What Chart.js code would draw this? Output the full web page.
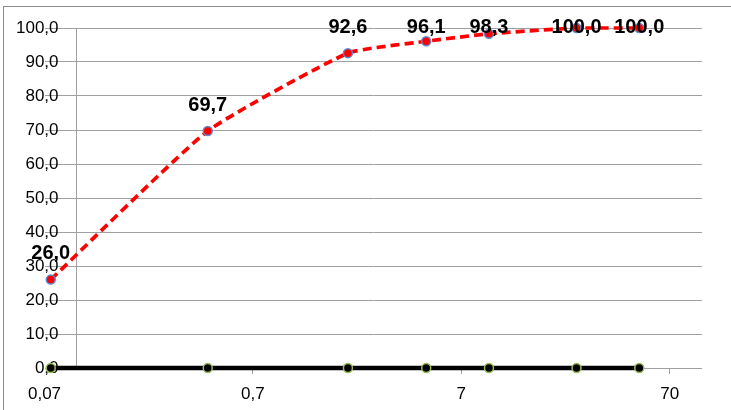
<!DOCTYPE html>
<html>
<head>
<meta charset="utf-8">
<script src="https://cdn.jsdelivr.net/npm/chart.js@4/dist/chart.umd.min.js"></script>
<style>
  html, body { margin: 0; padding: 0; background: #fff; overflow: hidden; }
  #wrap { position: relative; width: 731px; height: 410px; }
  #frame { position: absolute; left: 3px; top: 6px; width: 760px; height: 430px; border: 1px solid #8c8c8c; box-sizing: border-box; pointer-events: none; }
  canvas { position: absolute; left: 0; top: 0; }
</style>
</head>
<body>
<div id="wrap">
  <div id="frame"></div>
  <canvas id="c" width="731" height="410"></canvas>
</div>
<script>
// Sieve sizes (mm) and cumulative passing (%)
const sizes = [0.075, 0.425, 2, 4.75, 9.5, 25, 50];
const passing = [26.0, 69.7, 92.6, 96.1, 98.3, 100.0, 100.0];
const baseline = [0, 0, 0, 0, 0, 0, 0];
const xTicks = [0.07, 0.7, 7, 70];
const xTickLabels = ['0,07', '0,7', '7', '70'];
const yAxisCross = 0.1;

const fmt = v => Number(v).toFixed(1).replace('.', ',');

const labelPlugin = {
  id: 'pointLabels',
  afterDatasetsDraw(chart) {
    const ctx = chart.ctx;
    const meta = chart.getDatasetMeta(0);
    ctx.save();
    ctx.font = 'bold 20px "Liberation Sans", Arial, sans-serif';
    ctx.fillStyle = '#000';
    ctx.textAlign = 'center';
    ctx.textBaseline = 'middle';
    meta.data.forEach((pt, i) => {
      let y = pt.y - 26;
      if (y < 27) y = 27;
      ctx.fillText(fmt(passing[i]), pt.x, y);
    });
    ctx.restore();
  }
};

const allXTicks = [xTicks[0], yAxisCross].concat(xTicks.slice(1));
const FONT = '"Liberation Sans", Arial, sans-serif';

new Chart(document.getElementById('c'), {
  type: 'line',
  data: {
    datasets: [
      {
        data: sizes.map((s, i) => ({ x: s, y: passing[i] })),
        borderColor: '#ff0000',
        borderWidth: 3.7,
        borderDash: [9, 5],
        tension: 0.15,
        pointRadius: 4.5,
        pointBackgroundColor: '#ff0000',
        pointBorderColor: '#5b8bd0',
        pointBorderWidth: 1.5,
        fill: false,
        clip: false,
        order: 0
      },
      {
        data: sizes.map((s, i) => ({ x: s, y: baseline[i] })),
        borderColor: '#000000',
        borderWidth: 4.5,
        tension: 0,
        pointRadius: 4.5,
        pointBackgroundColor: '#000000',
        pointBorderColor: '#9bbb59',
        pointBorderWidth: 1.5,
        fill: false,
        clip: false,
        order: 1
      }
    ]
  },
  options: {
    responsive: false,
    animation: false,
    devicePixelRatio: 1,
    layout: { padding: { top: 28, right: 29, left: 0, bottom: 0 } },
    plugins: { legend: { display: false }, tooltip: { enabled: false } },
    scales: {
      x: {
        type: 'logarithmic',
        min: 0.07,
        max: 100,
        afterBuildTicks: axis => { axis.ticks = allXTicks.map(v => ({ value: v })); },
        afterFit: axis => { axis.height = 42; },
        border: { display: false },
        grid: {
          drawOnChartArea: true,
          tickLength: 6,
          lineWidth: 1,
          color: c => (c.tick && c.tick.value === yAxisCross) ? '#a0a0a0' : 'rgba(0,0,0,0)',
          tickColor: c => (c.tick && xTicks.slice(1).includes(c.tick.value)) ? '#a0a0a0' : 'rgba(0,0,0,0)'
        },
        ticks: {
          autoSkip: false,
          maxRotation: 0,
          padding: 10,
          color: '#000',
          font: { family: FONT, size: 17 },
          callback: v => { const k = xTicks.indexOf(v); return k >= 0 ? xTickLabels[k] : ''; }
        }
      },
      y: {
        min: 0,
        max: 100,
        afterFit: axis => { axis.width = 44.5; },
        border: { display: false },
        grid: { color: '#a0a0a0', lineWidth: 1, drawTicks: false },
        ticks: {
          stepSize: 10,
          mirror: true,
          crossAlign: 'far',
          padding: -28.5,
          color: '#000',
          font: { family: FONT, size: 17 },
          callback: v => fmt(v)
        }
      }
    }
  },
  plugins: [labelPlugin]
});
</script>
</body>
</html>
